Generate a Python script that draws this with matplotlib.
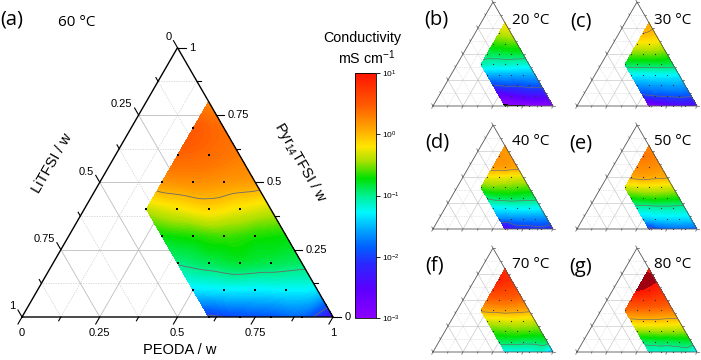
import numpy as np
import matplotlib
matplotlib.use("Agg")
import matplotlib.pyplot as plt
import matplotlib.tri as mtri
from matplotlib.colors import LinearSegmentedColormap, LogNorm
from matplotlib.cm import ScalarMappable

plt.rcParams["font.family"] = ["Liberation Sans", "DejaVu Sans"]
plt.rcParams["mathtext.fontset"] = "custom"
plt.rcParams["mathtext.rm"] = "Liberation Sans"
plt.rcParams["mathtext.it"] = "Liberation Sans:italic"
plt.rcParams["mathtext.bf"] = "Liberation Sans:bold"
plt.rcParams["mathtext.default"] = "regular"

# ---------------- data ----------------
# composition grid: rows = Pyr14TFSI fraction, columns = LiTFSI fraction (PEODA = rest, >= 0.2)
pyr_fraction = [0.8, 0.7, 0.6, 0.5, 0.4, 0.3, 0.2, 0.1, 0.0]
litfsi_fraction = [0.0, 0.1, 0.2, 0.3, 0.4]

# log10(conductivity / mS cm-1)
logsig_60C = [
    [0.25],
    [0.38, 0.48],
    [0.30, 0.38, 0.42],
    [0.12, 0.16, 0.20, 0.16],
    [-0.35, -0.25, -0.15, -0.25, -0.38],
    [-0.72, -0.68, -0.62, -0.68, -0.74],
    [-0.92, -0.88, -0.83, -0.90, -0.98],
    [-1.35, -1.30, -1.32, -1.32, -1.35],
    [-2.40, -1.85, -1.90, -1.95, -2.05],
]
logsig_20C = [
    [-0.20],
    [-0.35, -0.40],
    [-0.60, -0.62, -0.65],
    [-0.85, -0.85, -0.88, -0.90],
    [-1.20, -1.18, -1.15, -1.15, -1.10],
    [-1.55, -1.55, -1.55, -1.55, -1.55],
    [-1.90, -1.90, -1.95, -1.95, -2.00],
    [-2.40, -2.40, -2.45, -2.55, -2.70],
    [-2.95, -3.02, -3.05, -3.08, -3.12],
]
logsig_30C = [
    [0.05],
    [-0.05, 0.00],
    [-0.30, -0.25, -0.25],
    [-0.60, -0.55, -0.55, -0.55],
    [-0.90, -0.88, -0.88, -0.88, -0.90],
    [-1.30, -1.28, -1.28, -1.30, -1.30],
    [-1.60, -1.58, -1.60, -1.62, -1.65],
    [-1.95, -1.92, -1.95, -1.98, -2.05],
    [-2.50, -2.50, -2.60, -2.80, -3.05],
]
logsig_40C = [
    [0.15],
    [0.15, 0.18],
    [0.10, 0.12, 0.12],
    [-0.30, -0.28, -0.25, -0.25],
    [-0.60, -0.58, -0.55, -0.55, -0.60],
    [-0.92, -0.90, -0.88, -0.90, -0.95],
    [-1.30, -1.28, -1.28, -1.30, -1.32],
    [-1.70, -1.68, -1.68, -1.70, -1.72],
    [-2.20, -2.10, -2.15, -2.20, -2.60],
]
logsig_50C = [
    [0.25],
    [0.28, 0.32],
    [0.18, 0.22, 0.22],
    [0.03, 0.05, 0.08, 0.05],
    [-0.35, -0.32, -0.30, -0.32, -0.38],
    [-0.70, -0.68, -0.65, -0.68, -0.72],
    [-1.10, -1.08, -1.08, -1.10, -1.12],
    [-1.40, -1.38, -1.38, -1.40, -1.45],
    [-1.85, -1.80, -1.82, -1.88, -2.10],
]
logsig_70C = [
    [0.80],
    [0.80, 0.88],
    [0.60, 0.65, 0.70],
    [0.35, 0.40, 0.42, 0.40],
    [0.05, 0.08, 0.10, 0.08, 0.05],
    [-0.35, -0.32, -0.30, -0.32, -0.35],
    [-0.62, -0.60, -0.58, -0.60, -0.62],
    [-0.90, -0.92, -0.92, -0.90, -0.90],
    [-1.60, -1.20, -1.25, -1.25, -1.30],
]
logsig_80C = [
    [0.95],
    [1.02, 1.08],
    [0.85, 0.95, 1.02],
    [0.60, 0.65, 0.70, 0.70],
    [0.30, 0.32, 0.35, 0.35, 0.35],
    [-0.10, -0.08, -0.05, -0.05, -0.08],
    [-0.48, -0.46, -0.46, -0.48, -0.50],
    [-0.85, -0.86, -0.88, -0.88, -0.90],
    [-1.35, -1.12, -1.15, -1.15, -1.18],
]

panel_labels = ["(b)", "(c)", "(d)", "(e)", "(f)", "(g)"]
panel_temps = ["20 °C", "30 °C", "40 °C", "50 °C", "70 °C", "80 °C"]
panel_data = [logsig_20C, logsig_30C, logsig_40C, logsig_50C, logsig_70C, logsig_80C]

axis_ticks = [0, 0.25, 0.5, 0.75, 1]
axis_ticklabels = ["0", "0.25", "0.5", "0.75", "1"]
cbar_ticks = [1e-3, 1e-2, 1e-1, 1e0, 1e1]
cbar_ticklabels = ["10$^{-3}$", "10$^{-2}$", "10$^{-1}$", "10$^{0}$", "10$^{1}$"]

# ---------------- colormap ----------------
cmap = LinearSegmentedColormap.from_list("origin_rainbow", [
    (0.00, "#8c00ff"), (0.12, "#5a00ff"), (0.22, "#2a28ff"), (0.29, "#0060ff"),
    (0.36, "#00a8ff"), (0.43, "#00f8ff"), (0.50, "#00f090"), (0.57, "#00e000"),
    (0.64, "#a8e000"), (0.70, "#ffe600"), (0.77, "#ffa800"), (0.87, "#ff5a00"),
    (1.00, "#ff1400")], N=512)
cmap.set_under("black")
cmap.set_over("#a00010")

W, H = 701, 360
S3 = np.sqrt(3) / 2
fig = plt.figure(figsize=(W / 100, H / 100), dpi=100)


def build(rows):
    xs, ys, zs, bs, keys = [], [], [], [], {}
    for c, row in zip(pyr_fraction, rows):
        for b, v in zip(litfsi_fraction, row):
            a = 1 - b - c
            keys[(round(c * 10), round(b * 10))] = len(xs)
            xs.append(a + c / 2)
            ys.append(c * S3)
            zs.append(v)
            bs.append(b)
    tris = []
    for (i, j), k in keys.items():
        p1, p2, p3 = (i, j + 1), (i + 1, j), (i + 1, j - 1)
        if p1 in keys and p2 in keys:
            tris.append([k, keys[p1], keys[p2]])
        if p2 in keys and p3 in keys:
            tris.append([k, keys[p2], keys[p3]])
    return np.array(xs), np.array(ys), np.array(zs), np.array(bs), np.array(tris)


def make_ax(x0, ybot, side):
    ax = fig.add_axes([x0 / W, (H - ybot) / H, side / W, side * S3 / H])
    ax.set_xlim(0, 1)
    ax.set_ylim(0, S3)
    ax.axis("off")
    return ax


def draw_frame(ax, main):
    glw = 0.6 if main else 0.4
    for k in range(1, 8):
        v = k / 8
        major = k % 2 == 0
        kw = dict(color="#bdbdbd" if major else "#d2d2d2", lw=glw,
                  ls="-" if major else (0, (1.5, 1.5)), zorder=1)
        ax.plot([1 - v / 2, v / 2], [v * S3, v * S3], **kw)
        ax.plot([v, v + (1 - v) / 2], [0, (1 - v) * S3], **kw)
        ax.plot([1 - v, (1 - v) / 2], [0, (1 - v) * S3], **kw)
    ec = "black" if main else "#555555"
    elw = 1.0 if main else 0.6
    ax.plot([0, 1, 0.5, 0], [0, 0, S3, 0], color=ec, lw=elw, zorder=5,
            clip_on=False, solid_joinstyle="miter")
    tk = dict(color=ec, lw=0.8 if main else 0.5, clip_on=False, zorder=5)
    for k in range(9):
        v = k / 8
        L = (0.026 if k % 2 == 0 else 0.014) * (1 if main else 0.8)
        ax.plot([v, v - 0.5 * L], [0, -S3 * L], **tk)
        xr, yr = 1 - v / 2, v * S3
        ax.plot([xr, xr + L], [yr, yr], **tk)
        xl, yl = (1 - v) / 2, (1 - v) * S3
        ax.plot([xl, xl - 0.5 * L], [yl, yl + S3 * L], **tk)


def draw_field(ax, rows, main):
    x, y, z, b, tris = build(rows)
    tri = mtri.Triangulation(x, y, tris)
    interp = mtri.CubicTriInterpolator(tri, z, kind="geom")
    rtri, rz = mtri.UniformTriRefiner(tri).refine_field(z, triinterpolator=interp, subdiv=4)
    ax.tricontourf(rtri, rz, levels=np.linspace(-3, 1, 161), cmap=cmap,
                   extend="both", zorder=2)
    ax.tricontour(rtri, rz, levels=[-2, -1, 0], colors="#6a6a6a", linestyles="solid",
                  linewidths=0.6 if main else 0.45, zorder=3)
    m = b > 0
    ax.plot(x[m], y[m], "s", ms=1.6 if main else 0.8, color="black" if main else "#303030",
            mew=0, zorder=4)


# ---------------- main ternary (60 °C) ----------------
axm = make_ax(22, 317, 311)
draw_frame(axm, True)
draw_field(axm, logsig_60C, True)
for v, lab in zip(axis_ticks, axis_ticklabels):
    axm.text(v, -0.036, lab, ha="center", va="top", fontsize=8)
    axm.text(1 - v / 2 + 0.036, v * S3, lab, ha="left", va="center", fontsize=8)
    xl, yl = (1 - v) / 2, (1 - v) * S3
    axm.text(xl - 0.5 * 0.04, yl + S3 * 0.04, lab, ha="right", va="center", fontsize=8)
axm.text(0.508, -0.106, "PEODA / w", ha="center", va="center", fontsize=10.5)
axm.text(0.096, 0.495, "LiTFSI / w", ha="center", va="center", fontsize=10.5, rotation=60)
axm.text(0.894, 0.495, "Pyr$_{14}$TFSI / w", ha="center", va="center", fontsize=10.5, rotation=-60)

fig.text(12 / W, 1 - 19 / H, "(a)", ha="center", va="center", fontsize=14.5, family="Open Sans")
fig.text(77 / W, 1 - 23 / H, "60 °C", ha="center", va="center", fontsize=11, family="Open Sans")

# ---------------- colour bar ----------------
cax = fig.add_axes([355 / W, (H - 318) / H, 21 / W, 245 / H])
sm = ScalarMappable(norm=LogNorm(1e-3, 1e1), cmap=cmap)
cb = fig.colorbar(sm, cax=cax)
cb.set_ticks(cbar_ticks)
cb.set_ticklabels(cbar_ticklabels)
cb.ax.minorticks_off()
cb.ax.tick_params(labelsize=6, length=3, width=0.6, pad=1.5)
cb.outline.set_linewidth(0.6)
fig.text(362 / W, 1 - 38 / H, "Conductivity", ha="center", va="center", fontsize=10.3)
fig.text(367 / W, 1 - 58 / H, "mS cm$^{-1}$", ha="center", va="center", fontsize=10.3)

# ---------------- small panels ----------------
panel_pos = [(433, 106), (577, 106), (433, 229), (577, 229), (433, 352), (577, 352)]
label_pos = [(436, 20), (581, 21), (437, 143), (581, 144), (435, 266), (581, 267)]
temp_pos = [(531, 20), (673, 20), (531, 142), (673, 142), (531, 265), (673, 265)]
for (px, py), (lx, ly), (tx, ty), lab, temp, rows in zip(
        panel_pos, label_pos, temp_pos, panel_labels, panel_temps, panel_data):
    ax = make_ax(px, py, 120)
    draw_frame(ax, False)
    draw_field(ax, rows, False)
    fig.text(lx / W, 1 - ly / H, lab, ha="center", va="center", fontsize=14.5, family="Open Sans")
    fig.text(tx / W, 1 - ty / H, temp, ha="center", va="center", fontsize=11, family="Open Sans")

fig.savefig("out.png", dpi=100, facecolor="white")
